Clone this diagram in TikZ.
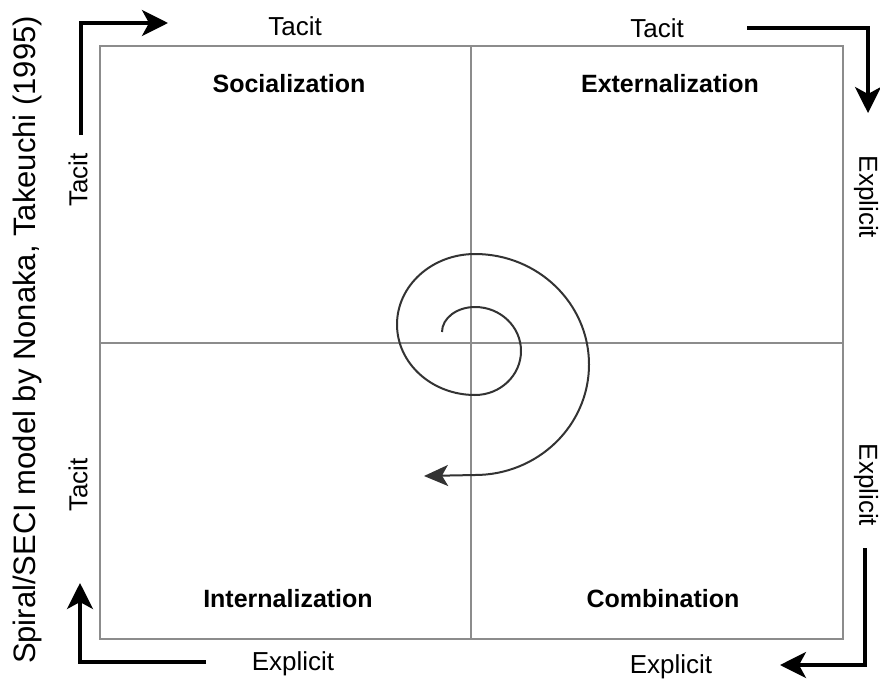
\documentclass[tikz,border=0pt]{standalone}
\usepackage{fontspec}
\setmainfont{Liberation Sans}
\usetikzlibrary{arrows.meta,positioning}

\begin{document}
\begin{tikzpicture}[x=1pt,y=-1pt,
  lbl/.style={font=\fontsize{26}{26}\selectfont},
  quad/.style={font=\fontsize{25}{25}\selectfont\bfseries},
  grid/.style={draw=black!45,line width=1.6pt},
  flow/.style={line width=3.5pt,-{Stealth[length=26pt,width=26pt,inset=7pt]}},
  spiral/.style={line width=2pt,draw=black!80,-{Stealth[length=24pt,width=21pt,inset=6pt]}}]
\useasboundingbox (0,0) rectangle (880,680);

\coordinate (tl) at (100,46);
\coordinate (br) at (843,639);
\coordinate (c) at (471,343);
\draw[grid] (tl) rectangle (br);
\draw[grid] (tl |- c) -- (br |- c);
\draw[grid] (tl -| c) -- (br -| c);

\foreach \t/\x/\y [count=\n] in {Socialization/289/84,Externalization/670/84,Internalization/288/599,Combination/663/599}
  \node[quad] (Q\n) at (\x,\y) {\t};

\node[lbl] (T1) at (295,26) {Tacit};
\node[lbl] (T2) at (657,28) {Tacit};
\node[lbl] (E1) at (293,664) {Explicit};
\node[lbl] (E2) at (671,667) {Explicit};
\node[lbl,rotate=90] (T3) at (78,180) {Tacit};
\node[lbl,rotate=90] (T4) at (78,485) {Tacit};
\node[lbl,rotate=-90] (E3) at (866,197) {Explicit};
\node[lbl,rotate=-90] (E4) at (866,485) {Explicit};

\node[rotate=90,font=\fontsize{31}{31}\selectfont] (cap) at (27,340) {Spiral/SECI model by Nonaka, Takeuchi (1995)};

\coordinate (a1) at (81,135); \coordinate (a2) at (168,23);
\coordinate (b1) at (747,28); \coordinate (b2) at (868,113);
\coordinate (c1) at (865,548); \coordinate (c2) at (780,665);
\coordinate (d1) at (206,662); \coordinate (d2) at (80,583);
\draw[flow] (a1) |- (a2);
\draw[flow] (b1) -| (b2);
\draw[flow] (c1) |- (c2);
\draw[flow] (d1) -| (d2);

\coordinate (s0) at (442,332);
\coordinate (s1) at (424,476);
\draw[spiral] (s0) arc[start angle=180,end angle=270,x radius=33,y radius=25]
  arc[start angle=270,end angle=450,x radius=46,y radius=44]
  arc[start angle=90,end angle=270,x radius=78,y radius=70.5]
  arc[start angle=270,end angle=450,x radius=114,y radius=110.5] -- (s1);
\end{tikzpicture}
\end{document}
